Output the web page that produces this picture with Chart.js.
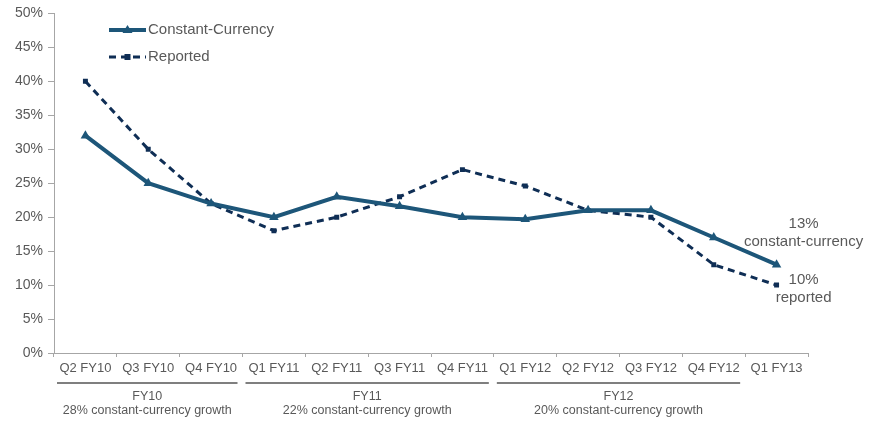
<!DOCTYPE html>
<html><head><meta charset="utf-8">
<script src="https://cdn.jsdelivr.net/npm/chart.js@4/dist/chart.umd.min.js"></script>
<style>html,body{margin:0;padding:0;background:#fff}#wrap{width:871px;height:423px}</style>
</head><body><div id="wrap"><canvas id="c"></canvas></div>
<script>
const categories = ["Q2 FY10","Q3 FY10","Q4 FY10","Q1 FY11","Q2 FY11","Q3 FY11","Q4 FY11","Q1 FY12","Q2 FY12","Q3 FY12","Q4 FY12","Q1 FY13"];
const constantCurrency = [32, 25, 22, 20, 23, 21.6, 20, 19.7, 21, 21, 17, 13];
const reported = [40, 30, 22, 18, 20, 23, 27, 24.6, 21, 20, 13, 10];
const yTicks = [0,5,10,15,20,25,30,35,40,45,50];
const groups = [
  {name:"FY10", sub:"28% constant-currency growth", from:0, to:2},
  {name:"FY11", sub:"22% constant-currency growth", from:3, to:6},
  {name:"FY12", sub:"20% constant-currency growth", from:7, to:10}
];
const endNotes = [
  {lines:["13%","constant-currency"]},
  {lines:["10%","reported"]}
];
const CC_COLOR = "#1d5679";
const REP_COLOR = "#0f2e55";
const TXT = "#595959";
const FONT = "'Liberation Sans', Arial, sans-serif";

const extras = {
  id:"extras",
  afterDraw(chart){
    const ctx = chart.ctx, x = chart.scales.x, y = chart.scales.y;
    const half = (x.getPixelForValue(1) - x.getPixelForValue(0))/2;
    ctx.save();
    // group brackets
    groups.forEach(g=>{
      const l = x.getPixelForValue(g.from) - half + 3;
      const r = x.getPixelForValue(g.to) + half - 5;
      ctx.strokeStyle = "#7f7f7f"; ctx.lineWidth = 2;
      ctx.beginPath(); ctx.moveTo(l, 383); ctx.lineTo(r, 383); ctx.stroke();
      ctx.fillStyle = TXT; ctx.font = "12.5px " + FONT;
      ctx.textAlign = "center"; ctx.textBaseline = "middle";
      const cx = (l + r)/2;
      ctx.fillText(g.name, cx, 397);
      ctx.fillText(g.sub, cx, 411);
    });
    // legend
    const items = [
      {label:"Constant-Currency", ds:1, yy:30},
      {label:"Reported", ds:0, yy:57}
    ];
    items.forEach(it=>{
      const d = chart.data.datasets[it.ds];
      ctx.strokeStyle = d.borderColor; ctx.lineWidth = d.borderWidth;
      ctx.setLineDash(d.borderDash || []);
      ctx.beginPath(); ctx.moveTo(109, it.yy); ctx.lineTo(146, it.yy); ctx.stroke();
      ctx.setLineDash([]);
      ctx.fillStyle = d.pointBackgroundColor;
      if (d.pointStyle === "triangle") {
        ctx.beginPath(); ctx.moveTo(127.5, it.yy-5); ctx.lineTo(132.5, it.yy+3); ctx.lineTo(122.5, it.yy+3); ctx.closePath(); ctx.fill();
      } else {
        ctx.fillRect(124.5, it.yy-3, 6, 6);
      }
      ctx.fillStyle = TXT; ctx.font = "15px " + FONT;
      ctx.textAlign = "left"; ctx.textBaseline = "middle";
      ctx.fillText(it.label, 148, it.yy);
    });
    // end notes
    ctx.fillStyle = TXT; ctx.font = "15px " + FONT; ctx.textAlign = "center"; ctx.textBaseline = "middle";
    const last = categories.length - 1;
    const ax = x.getPixelForValue(last) + 27;
    const yc = y.getPixelForValue(constantCurrency[last]);
    const yr = y.getPixelForValue(reported[last]);
    ctx.fillText(endNotes[0].lines[0], ax, yc - 41);
    ctx.fillText(endNotes[0].lines[1], ax, yc - 23);
    ctx.fillText(endNotes[1].lines[0], ax, yr - 5);
    ctx.fillText(endNotes[1].lines[1], ax, yr + 13);
    ctx.restore();
  }
};

new Chart(document.getElementById("c"), {
  type:"line",
  data:{
    labels:categories,
    datasets:[
      {label:"Reported", data:reported, borderColor:REP_COLOR, backgroundColor:REP_COLOR,
       pointBackgroundColor:REP_COLOR, pointBorderColor:REP_COLOR, borderWidth:3, borderDash:[7,5],
       pointStyle:"rect", pointRadius:3.5, pointBorderWidth:0, tension:0, order:2},
      {label:"Constant-Currency", data:constantCurrency, borderColor:CC_COLOR, backgroundColor:CC_COLOR,
       pointBackgroundColor:CC_COLOR, pointBorderColor:CC_COLOR, borderWidth:4,
       pointStyle:"triangle", pointRadius:5.5, pointBorderWidth:0, tension:0, order:1}
    ]
  },
  options:{
    responsive:true, maintainAspectRatio:false, animation:false,
    layout:{padding:{top:12, right:63, left:0, bottom:0}},
    plugins:{legend:{display:false}, tooltip:{enabled:false}},
    scales:{
      x:{
        offset:true,
        grid:{offset:true, drawOnChartArea:false, drawTicks:true, tickLength:4, color:"#a6a6a6"},
        border:{color:"#a6a6a6", width:1},
        ticks:{color:TXT, font:{family:FONT, size:13}, maxRotation:0, autoSkip:false, padding:4},
        afterFit(s){ s.height = 70; }
      },
      y:{
        min:0, max:50,
        afterBuildTicks(s){ s.ticks = yTicks.map(v=>({value:v})); },
        grid:{drawOnChartArea:false, drawTicks:true, tickLength:6, color:"#a6a6a6"},
        border:{color:"#a6a6a6", width:1},
        ticks:{color:TXT, font:{family:FONT, size:14}, padding:5, callback:v=>v+"%"},
        afterFit(s){ s.width = 54; }
      }
    }
  },
  plugins:[extras]
});
</script></body></html>
